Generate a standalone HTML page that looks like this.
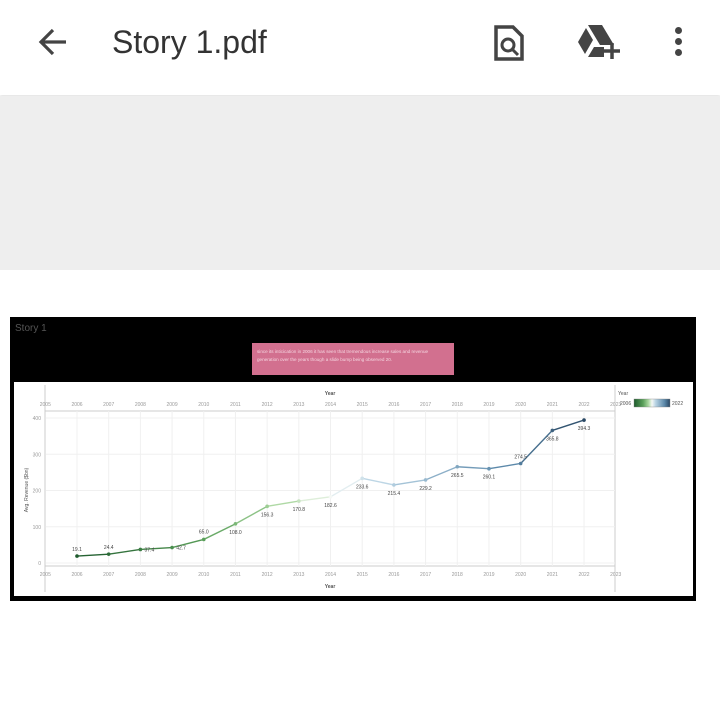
<!DOCTYPE html>
<html><head><meta charset="utf-8"><style>
body{margin:0;width:720px;height:717px;background:#fff;font-family:"Liberation Sans",sans-serif;position:relative;overflow:hidden}
.abs{position:absolute}
</style></head><body>
<div class="abs" style="left:0;top:0;width:720px;height:95px;background:#fff;box-shadow:0 1px 3px rgba(0,0,0,.15)">
 <svg class="abs" style="left:36px;top:26px" width="34" height="32"><path d="M30 16H5M17 4L5 16L17 28" stroke="#444" stroke-width="3.2" fill="none"/></svg>
 <div class="abs" style="left:112px;top:24px;font-size:32px;color:#333">Story 1.pdf</div>
 <svg class="abs" style="left:492px;top:24px" width="34" height="38"><path d="M4 3h17l9 9v23H4z" fill="none" stroke="#444" stroke-width="3.5"/><circle cx="16" cy="21" r="6" fill="none" stroke="#444" stroke-width="3"/><path d="M20 25l6 6" stroke="#444" stroke-width="3"/></svg>
 <svg class="abs" style="left:578px;top:25px" width="44" height="34"><path d="M10 0h14l12 20h-14zM8 3l-8 14 7 12 8-14zM10 32l6-10h10v10z" fill="#444"/><path d="M34 18v16M26 26h16" stroke="#444" stroke-width="3.5"/></svg>
 <div class="abs" style="left:675px;top:27px;width:8px">
  <div style="width:7px;height:7px;border-radius:50%;background:#444;margin-bottom:4px"></div><div style="width:7px;height:7px;border-radius:50%;background:#444;margin-bottom:4px"></div><div style="width:7px;height:7px;border-radius:50%;background:#444"></div></div>
</div>
<div class="abs" style="left:0;top:96px;width:720px;height:174px;background:#eeeeee"></div>
<div class="abs" style="left:10px;top:317px;width:686px;height:284px;background:#000"></div>
<div class="abs" style="left:15px;top:323px;font-size:10px;color:#555">Story 1</div>
<div class="abs" style="left:252px;top:343px;width:202px;height:32px;background:#d2708f;color:#f5d5e0;font-size:4.6px;line-height:8px;box-sizing:border-box;padding:5px 5px">since its inticication in 2006 it has seen that tremendous increase sales and revenue generation over the years though a slide bump being observed 20.</div>
<svg class="abs" style="left:0;top:0" width="720" height="717" id="chart"></svg>
<script>
const years=[2006,2007,2008,2009,2010,2011,2012,2013,2014,2015,2016,2017,2018,2019,2020,2021,2022];
const revenue=[19.1,24.4,37.4,42.7,65.0,108.0,156.3,170.8,182.6,233.6,215.4,229.2,265.5,260.1,274.5,365.8,394.3];
const labels=["19.1","24.4","37.4","42.7","65.0","108.0","156.3","170.8","182.6","233.6","215.4","229.2","265.5","260.1","274.5","365.8","394.3"];
const tickYears=[2005,2006,2007,2008,2009,2010,2011,2012,2013,2014,2015,2016,2017,2018,2019,2020,2021,2022,2023];
const yTicks=[0,100,200,300,400];
const NS="http://www.w3.org/2000/svg";
const svg=document.getElementById('chart');
const X=y=>77+(y-2006)*31.69;
const Y=v=>563-v*0.3625;
function el(t,a,p){const e=document.createElementNS(NS,t);for(const k in a)e.setAttribute(k,a[k]);(p||svg).appendChild(e);return e;}
function txt(x,y,s,a){const e=el('text',Object.assign({x:x,y:y,'font-size':5,fill:'#999','text-anchor':'middle','font-family':'Liberation Sans, sans-serif'},a||{}));e.textContent=s;return e;}
const bg=el('rect',{x:14,y:382,width:679,height:214,fill:'#fff'});

el('line',{x1:45,y1:385,x2:45,y2:592,stroke:'#ccc'});
el('line',{x1:615,y1:385,x2:615,y2:592,stroke:'#ccc'});
el('line',{x1:45,y1:411,x2:615,y2:411,stroke:'#ccc'});
el('line',{x1:45,y1:566,x2:615,y2:566,stroke:'#ccc'});
tickYears.forEach(t=>{const x=X(t);
 if(t>=2006&&t<=2022){const g=el('line',{x1:x,y1:411,x2:x,y2:566,stroke:'#f0f0f0'});}
 const a=txt(x,406,String(t));
 const b=txt(x,576,String(t));});
yTicks.forEach(v=>{const y=Y(v);
 const g=el('line',{x1:46,y1:y,x2:615,y2:y,stroke:'#f0f0f0'});
 const t=txt(41,y+2,String(v),{'text-anchor':'end'});});
const xt1=txt(330,395,'Year',{fill:'#555','font-weight':'bold'});
const xt2=txt(330,588,'Year',{fill:'#555','font-weight':'bold'});
const yt=txt(28,490,'Avg. Revenue ($bn)',{fill:'#555',transform:'rotate(-90 28 490)'});
const stops=[[0,[30,90,45]],[0.25,[90,160,90]],[0.4,[170,215,160]],[0.5,[245,248,245]],[0.6,[185,212,228]],[0.85,[90,135,168]],[1,[40,70,98]]];
function col(yr){const t=(yr-2006)/16;
 for(let i=0;i<stops.length-1;i++){const [t0,a]=stops[i],[t1,b]=stops[i+1];
  if(t<=t1){const u=(t-t0)/(t1-t0);return 'rgb('+a.map((c,j)=>Math.round(c+(b[j]-c)*u)).join(',')+')';}}
 return 'rgb(40,70,98)';}
for(let i=0;i<years.length-1;i++){
 const s=el('line',{x1:X(years[i]),y1:Y(revenue[i]),x2:X(years[i+1]),y2:Y(revenue[i+1]),stroke:col((years[i]+years[i+1])/2),'stroke-width':1.4});
 }
years.forEach((yr,i)=>{const x=X(yr),y=Y(revenue[i]);
 const p=el('circle',{cx:x,cy:y,r:1.8,fill:col(yr)});
 let dx=0,dy=10;
 if(i<2||i==14){dy=-5;} if(i==2||i==3){dx=9;dy=2;} if(i==4){dx=0;dy=-6;}
 const l=txt(x+dx,y+dy,labels[i],{fill:'#444'});});
const lt=txt(618,395,'Year',{fill:'#555','text-anchor':'start'});
const defs=el('defs',{});const gr=el('linearGradient',{id:'lg'},defs);
stops.forEach(s=>el('stop',{offset:(s[0]*100)+'%','stop-color':'rgb('+s[1].join(',')+')'},gr));
const lr=el('rect',{x:634,y:399,width:36,height:8,fill:'url(#lg)',stroke:'#888','stroke-width':0.4});
const l1=txt(620,405,'2006',{fill:'#555','text-anchor':'start'});
const l2=txt(672,405,'2022',{fill:'#555','text-anchor':'start'});
</script>
</body></html>
